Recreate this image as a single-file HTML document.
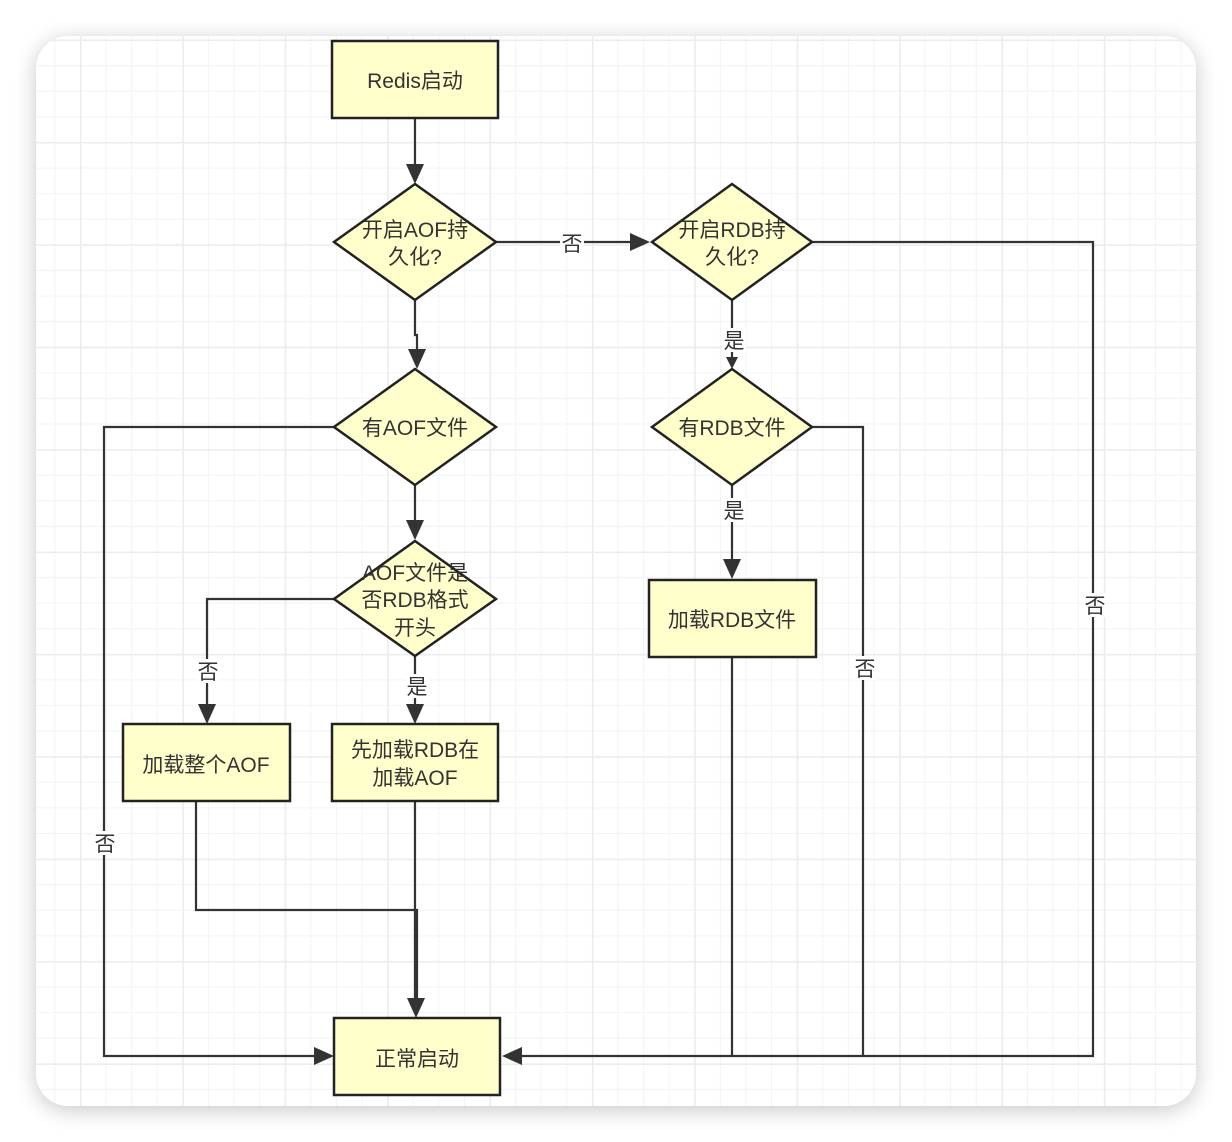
<!DOCTYPE html>
<html><head><meta charset="utf-8"><style>
html,body{margin:0;padding:0;width:1232px;height:1142px;background:#fff;overflow:hidden}
.card{position:absolute;left:36px;top:36px;width:1160px;height:1070px;border-radius:32px;
box-shadow:0 4px 22px rgba(0,0,0,0.22);overflow:hidden;background-color:#fff;
background-image:
linear-gradient(to right,#ececec 0,#ececec 1.5px,transparent 1.5px),
linear-gradient(to bottom,#ececec 0,#ececec 1.5px,transparent 1.5px),
linear-gradient(to right,#f3f3f3 0,#f3f3f3 1px,transparent 1px),
linear-gradient(to bottom,#f3f3f3 0,#f3f3f3 1px,transparent 1px);
background-size:102.4px 102.4px,102.4px 102.4px,25.6px 25.6px,25.6px 25.6px;
background-position:44px 0,0 3.6px,44px 0,0 3.6px}
svg{position:absolute;left:0;top:0}
text{font-family:"Liberation Sans","Noto Sans CJK SC",sans-serif;font-size:21px;fill:#333}
</style></head><body>
<div class="card"></div>
<svg width="1232" height="1142" viewBox="0 0 1232 1142">
<g stroke="#333" stroke-width="2.2" fill="none">
<path d="M415 118V166"/>
<path d="M496 242H632"/>
<path d="M812 242H1093V1056H522"/>
<path d="M415 300V335H417V351"/>
<path d="M732 300V360"/>
<path d="M334 427H104V1056H314"/>
<path d="M415 485V522"/>
<path d="M812 427H863V1056"/>
<path d="M732 485V561"/>
<path d="M732 657V1056"/>
<path d="M334 599H207V706"/>
<path d="M415 656V706"/>
<path d="M196 801V910H417V1000"/>
<path d="M415 801V1000"/>
</g>
<g fill="#333">
<path d="M406 164L424 164L415 184Z"/>
<path d="M630 233L630 251L650 242Z"/>
<path d="M522 1047L522 1065L502 1056Z"/>
<path d="M408 349L426 349L417 369Z"/>
<path d="M726 357L738 357L732 369Z"/>
<path d="M314 1047L314 1065L334 1056Z"/>
<path d="M406 520L424 520L415 540Z"/>
<path d="M723 559L741 559L732 579Z"/>
<path d="M198 704L216 704L207 724Z"/>
<path d="M406 704L424 704L415 724Z"/>
<path d="M407 998L425 998L416 1018Z"/>
</g>
<g fill="#ffffcc" stroke="#222" stroke-width="2.5">
<rect x="332" y="41" width="166" height="77"/>
<polygon points="415,184 496,242 415,300 334,242"/>
<polygon points="732,184 812,242 732,300 652,242"/>
<polygon points="415,369 496,427 415,485 334,427"/>
<polygon points="732,369 812,427 732,485 652,427"/>
<polygon points="415,541 496,599 415,656 334,599"/>
<rect x="123" y="724" width="167" height="77"/>
<rect x="332" y="724" width="166" height="77"/>
<rect x="649" y="580" width="167" height="77"/>
<rect x="334" y="1018" width="166" height="77"/>
</g>
<g fill="#fff">
<rect x="560" y="231" width="24" height="24"/>
<rect x="722" y="328" width="24" height="24"/>
<rect x="722" y="498" width="24" height="24"/>
<rect x="1083" y="593" width="24" height="24"/>
<rect x="853" y="656" width="24" height="24"/>
<rect x="93" y="831" width="24" height="24"/>
<rect x="196" y="659" width="24" height="24"/>
<rect x="405" y="674" width="24" height="24"/>
</g>
<g text-anchor="middle">
<text x="415" y="88">Redis启动</text>
<text x="415" y="237">开启AOF持</text>
<text x="415" y="264">久化?</text>
<text x="732" y="237">开启RDB持</text>
<text x="732" y="264">久化?</text>
<text x="415" y="435">有AOF文件</text>
<text x="732" y="435">有RDB文件</text>
<text x="415" y="580">AOF文件是</text>
<text x="415" y="607">否RDB格式</text>
<text x="415" y="635">开头</text>
<text x="206" y="772">加载整个AOF</text>
<text x="415" y="757">先加载RDB在</text>
<text x="415" y="785">加载AOF</text>
<text x="732" y="627">加载RDB文件</text>
<text x="417" y="1066">正常启动</text>
<text x="572" y="251">否</text>
<text x="734" y="348">是</text>
<text x="734" y="518">是</text>
<text x="1095" y="613">否</text>
<text x="865" y="676">否</text>
<text x="105" y="851">否</text>
<text x="208" y="679">否</text>
<text x="417" y="694">是</text>
</g>
</svg>
</body></html>
